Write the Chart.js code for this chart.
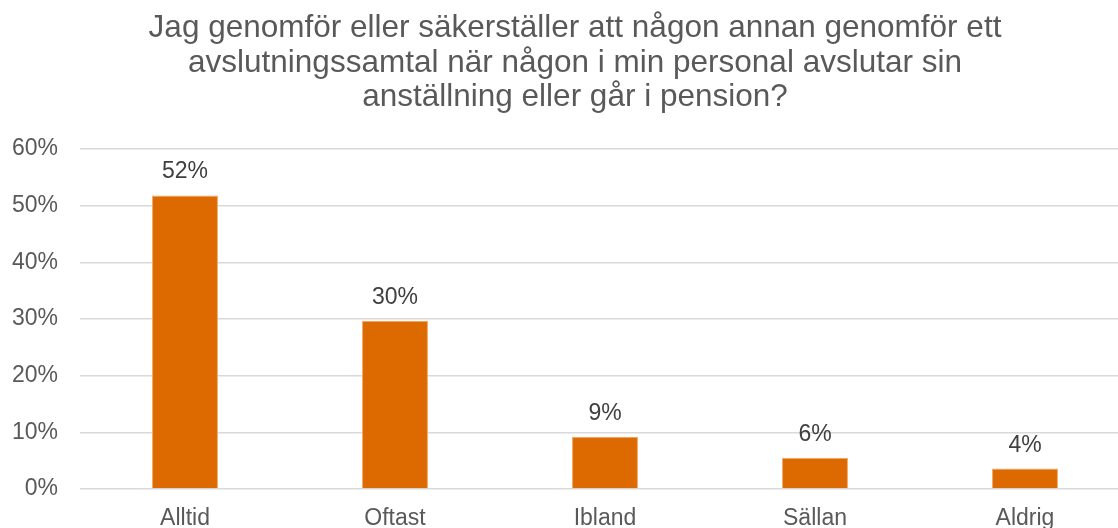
<!DOCTYPE html>
<html>
<head>
<meta charset="utf-8">
<script src="https://cdn.jsdelivr.net/npm/chart.js@4"></script>
<style>
  html, body { margin: 0; padding: 0; background: #fff; overflow: hidden; }
  #wrap { width: 1154px; height: 528px; }
</style>
</head>
<body>
<div id="wrap"><canvas id="mainChart"></canvas></div>
<script>
// data
const titleLines = [
  "Jag genomför eller säkerställer att någon annan genomför ett",
  "avslutningssamtal när någon i min personal avslutar sin",
  "anställning eller går i pension?"
];
const categories = ["Alltid", "Oftast", "Ibland", "Sällan", "Aldrig"];
const values = [0.518, 0.297, 0.092, 0.055, 0.036];
const valueLabels = ["52%", "30%", "9%", "6%", "4%"];

const FONT = "'Liberation Sans', Arial, sans-serif";

// rubrik, centrerad lite till höger om plotytan
const titleDraw = {
  id: "titleDraw",
  afterDraw(chart) {
    const c = chart.ctx;
    c.save();
    c.font = "31.5px " + FONT;
    c.fillStyle = "#595959";
    c.textAlign = "center";
    c.textBaseline = "alphabetic";
    titleLines.forEach((line, i) => {
      c.fillText(line, 575, 37 + i * 34.5);
    });
    c.restore();
  }
};

// etiketter ovanför staplarna
const barLabels = {
  id: "barLabels",
  afterDatasetsDraw(chart) {
    const c = chart.ctx;
    const meta = chart.getDatasetMeta(0);
    c.save();
    c.font = "23px " + FONT;
    c.fillStyle = "#404040";
    c.textAlign = "center";
    c.textBaseline = "alphabetic";
    meta.data.forEach((bar, i) => {
      c.fillText(valueLabels[i], bar.x, bar.y - 17);
    });
    c.restore();
  }
};

const ctx = document.getElementById("mainChart").getContext("2d");

new Chart(ctx, {
  type: "bar",
  data: {
    labels: categories,
    datasets: [{
      data: values,
      backgroundColor: "#DD6A00",
      borderColor: "#F2A868",
      borderWidth: 1,
      categoryPercentage: 1,
      barPercentage: 0.314
    }]
  },
  options: {
    responsive: true,
    maintainAspectRatio: false,
    animation: false,
    layout: { padding: { left: 0, right: 24, top: 149, bottom: 0 } },
    plugins: {
      legend: { display: false },
      tooltip: { enabled: false },
      title: { display: false }
    },
    scales: {
      x: {
        grid: { display: false },
        border: { display: false },
        ticks: {
          color: "#595959",
          font: { family: FONT, size: 23 },
          padding: 8
        },
        afterFit: (scale) => { scale.height = 39; }
      },
      y: {
        min: 0,
        max: 0.6,
        border: { display: false },
        grid: { color: "#D9D9D9", lineWidth: 1.5, drawTicks: false },
        ticks: {
          stepSize: 0.1,
          color: "#595959",
          font: { family: FONT, size: 23 },
          padding: 22,
          callback: (v) => Math.round(v * 100) + "%"
        },
        afterFit: (scale) => { scale.width = 80; }
      }
    }
  },
  plugins: [barLabels, titleDraw]
});
</script>
</body>
</html>
